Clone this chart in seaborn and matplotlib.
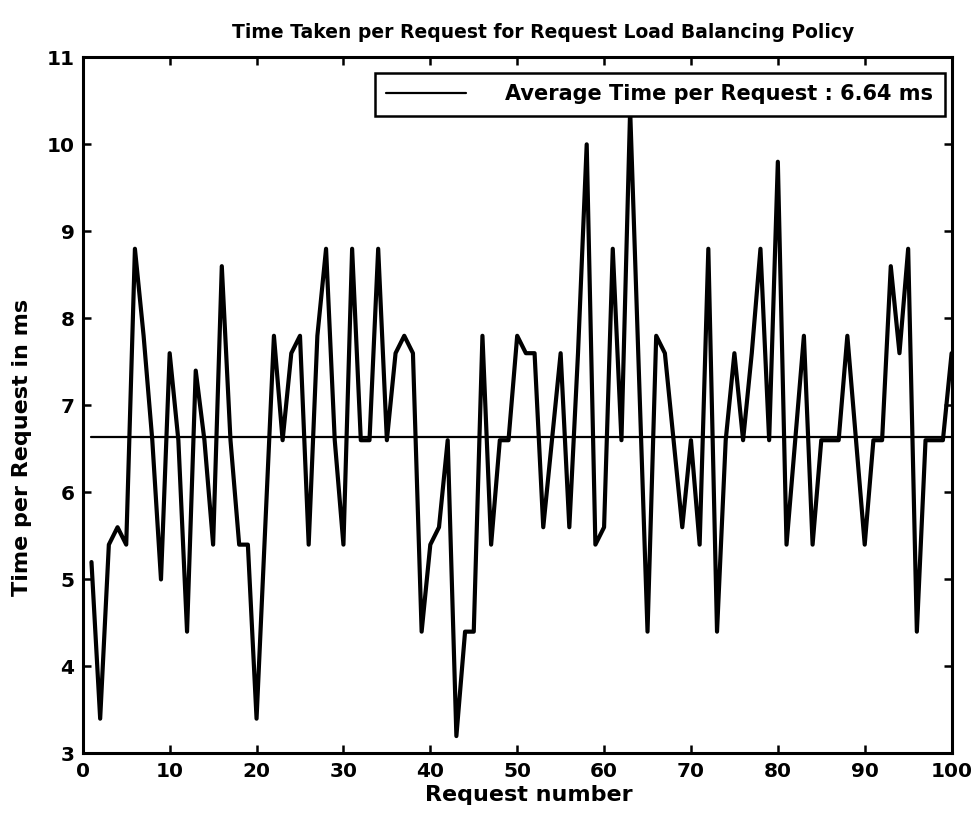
import matplotlib
matplotlib.use("Agg")
import matplotlib.pyplot as plt
import seaborn as sns
import pandas as pd

# Measured response time for each request (ms)
request_number = list(range(1, 101))
time_ms = [
    5.2, 3.4, 5.4, 5.6, 5.4, 8.8, 7.8, 6.6, 5.0, 7.6,
    6.6, 4.4, 7.4, 6.6, 5.4, 8.6, 6.6, 5.4, 5.4, 3.4,
    5.6, 7.8, 6.6, 7.6, 7.8, 5.4, 7.8, 8.8, 6.6, 5.4,
    8.8, 6.6, 6.6, 8.8, 6.6, 7.6, 7.8, 7.6, 4.4, 5.4,
    5.6, 6.6, 3.2, 4.4, 4.4, 7.8, 5.4, 6.6, 6.6, 7.8,
    7.6, 7.6, 5.6, 6.6, 7.6, 5.6, 7.6, 10.0, 5.4, 5.6,
    8.8, 6.6, 10.4, 7.4, 4.4, 7.8, 7.6, 6.6, 5.6, 6.6,
    5.4, 8.8, 4.4, 6.6, 7.6, 6.6, 7.6, 8.8, 6.6, 9.8,
    5.4, 6.6, 7.8, 5.4, 6.6, 6.6, 6.6, 7.8, 6.6, 5.4,
    6.6, 6.6, 8.6, 7.6, 8.8, 4.4, 6.6, 6.6, 6.6, 7.6,
]
average_ms = 6.64
x_ticks = list(range(0, 101, 10))
y_ticks = list(range(3, 12))

title_text = "Time Taken per Request for Request Load Balancing Policy"
x_label = "Request number"
y_label = "Time per Request in ms"
legend_label = f"Average Time per Request : {average_ms:.2f} ms"

sns.set_style("ticks")
plt.rcParams["font.family"] = ["DejaVu Sans"]
plt.rcParams["font.weight"] = "bold"
plt.rcParams["text.color"] = "black"
plt.rcParams["axes.labelcolor"] = "black"
plt.rcParams["xtick.color"] = "black"
plt.rcParams["ytick.color"] = "black"

df = pd.DataFrame({"request": request_number, "time": time_ms})
avg_df = pd.DataFrame({"request": request_number, "avg": [average_ms] * len(request_number)})

fig = plt.figure(figsize=(9.74, 8.19), dpi=100)
ax = fig.add_axes([0.085, 0.080, 0.892, 0.850])

sns.lineplot(data=df, x="request", y="time", color="black", linewidth=3.0, ax=ax, zorder=3)
sns.lineplot(data=avg_df, x="request", y="avg", color="black", linewidth=1.6, ax=ax,
             label=legend_label, zorder=2)

ax.set_xlim(0, 100)
ax.set_ylim(3, 11)
ax.set_xticks(x_ticks)
ax.set_yticks(y_ticks)
ax.tick_params(direction="in", length=6, width=1.8, top=True, right=True,
               labelsize=14.5, pad=6, colors="black")
for lbl in ax.get_xticklabels() + ax.get_yticklabels():
    lbl.set_fontweight("bold")
for side in ["left", "right", "top", "bottom"]:
    ax.spines[side].set_visible(True)
    ax.spines[side].set_linewidth(2.2)
    ax.spines[side].set_color("black")

ax.set_title(title_text, fontsize=13.5, fontweight="bold", pad=14, x=0.53, color="black")
ax.set_xlabel(x_label, fontsize=16, fontweight="bold", color="black")
ax.set_ylabel(y_label, fontsize=16, fontweight="bold", color="black")
ax.xaxis.set_label_coords(0.513, -0.045)
ax.yaxis.set_label_coords(-0.058, 0.44)

leg = ax.legend(loc="upper right", fontsize=15, frameon=True, fancybox=False,
                handlelength=3.8, handletextpad=1.9, borderpad=0.55,
                borderaxespad=0, bbox_to_anchor=(0.992, 0.978))
leg.get_frame().set_edgecolor("black")
leg.get_frame().set_linewidth(1.8)
leg.get_frame().set_alpha(1)
leg.set_zorder(5)
for t in leg.get_texts():
    t.set_fontweight("bold")
    t.set_color("black")

fig.savefig("out.png", dpi=100, facecolor="white")
